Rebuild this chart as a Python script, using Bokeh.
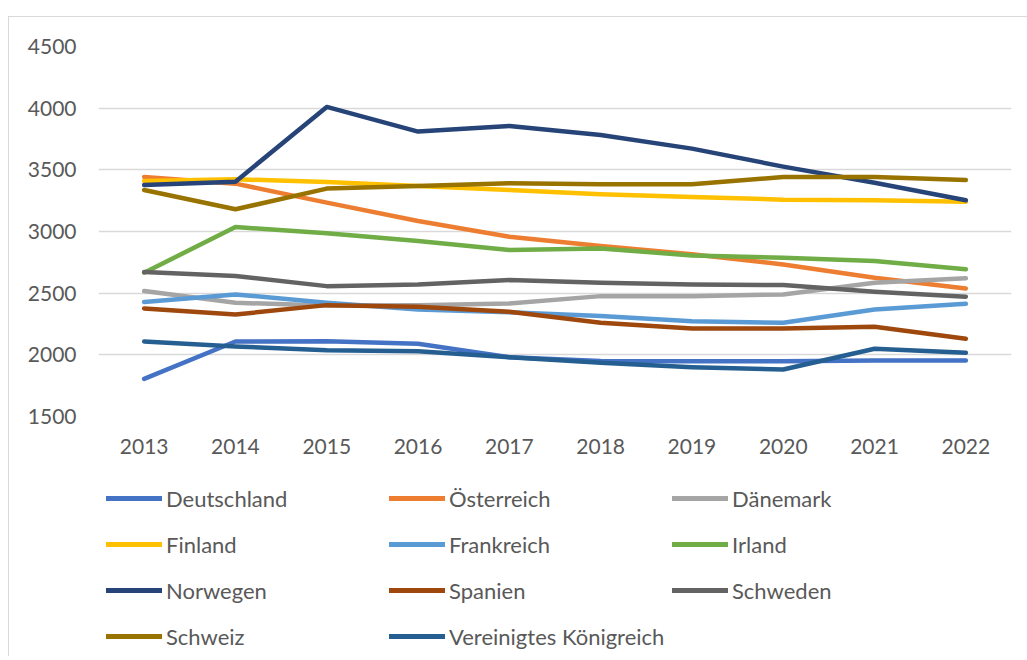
from bokeh.plotting import figure
from bokeh.layouts import column
from bokeh.models import Legend, LegendItem, FactorRange, Range1d, FixedTicker
from bokeh.embed import file_html
from bokeh.resources import INLINE

years = ["2013", "2014", "2015", "2016", "2017", "2018", "2019", "2020", "2021", "2022"]

deutschland = [1805, 2108, 2110, 2090, 1980, 1950, 1948, 1948, 1955, 1955]
oesterreich = [3442, 3388, 3234, 3085, 2958, 2882, 2815, 2733, 2625, 2538]
daenemark = [2517, 2422, 2400, 2403, 2417, 2476, 2476, 2490, 2584, 2620]
finland = [3410, 3423, 3402, 3369, 3337, 3302, 3280, 3258, 3253, 3242]
frankreich = [2428, 2490, 2422, 2368, 2346, 2314, 2273, 2260, 2368, 2414]
irland = [2666, 3036, 2985, 2923, 2850, 2863, 2806, 2787, 2760, 2693]
norwegen = [3377, 3404, 4010, 3810, 3856, 3783, 3672, 3526, 3396, 3253]
spanien = [2376, 2327, 2403, 2390, 2349, 2260, 2214, 2214, 2227, 2130]
schweden = [2671, 2639, 2557, 2571, 2606, 2584, 2571, 2566, 2511, 2471]
schweiz = [3337, 3180, 3348, 3369, 3391, 3383, 3383, 3442, 3442, 3418]
vereinigtes_koenigreich = [2108, 2068, 2038, 2030, 1981, 1935, 1900, 1881, 2049, 2016]

series_names = ["Deutschland", "Österreich", "Dänemark", "Finland", "Frankreich", "Irland",
                "Norwegen", "Spanien", "Schweden", "Schweiz", "Vereinigtes Königreich"]
series_values = [deutschland, oesterreich, daenemark, finland, frankreich, irland,
                 norwegen, spanien, schweden, schweiz, vereinigtes_koenigreich]
series_colors = ["#4472C4", "#ED7D31", "#A5A5A5", "#FFC000", "#5B9BD5", "#70AD47",
                 "#264478", "#9E480E", "#636363", "#997300", "#255E91"]

y_ticks = [1500, 2000, 2500, 3000, 3500, 4000, 4500]

# legend columns (the reference reads row by row: 3 entries per row)
legend_columns = [["Deutschland", "Finland", "Norwegen", "Schweiz"],
                  ["Österreich", "Frankreich", "Spanien", "Vereinigtes Königreich"],
                  ["Dänemark", "Irland", "Schweden"]]

FONT = "Lato"
TXT = "#595959"
W = 1018

# ---- main chart -------------------------------------------------------------
p = figure(x_range=FactorRange(*years), y_range=Range1d(1500, 4500),
           width=W, height=453,
           min_border_left=89, min_border_top=29, min_border_right=16,
           min_border_bottom=54,
           output_backend="svg", toolbar_location=None)
p.outline_line_color = None
p.background_fill_color = "white"
p.border_fill_color = "white"

p.xgrid.grid_line_color = None
p.ygrid.grid_line_color = "#D9D9D9"
p.ygrid.grid_line_width = 1.5
p.yaxis.ticker = FixedTicker(ticks=y_ticks)

for ax in (p.xaxis[0], p.yaxis[0]):
    ax.axis_line_color = None
    ax.major_tick_line_color = None
    ax.minor_tick_line_color = None
    ax.major_label_text_font = FONT
    ax.major_label_text_font_size = "21px"
    ax.major_label_text_color = TXT
p.yaxis.major_label_standoff = 16
p.xaxis.major_label_standoff = 16

for name, vals, col in zip(series_names, series_values, series_colors):
    p.line(years, vals, line_color=col, line_width=4.5,
           line_cap="round", line_join="round")

# ---- legend panel -----------------------------------------------------------
LEG_H = 186
lf = figure(width=W, height=LEG_H, x_range=Range1d(0, 1), y_range=Range1d(0, 1),
            x_axis_type=None, y_axis_type=None, min_border=0,
            output_backend="svg", toolbar_location=None)
lf.grid.visible = False
lf.outline_line_color = None
lf.background_fill_color = "white"
lf.border_fill_color = "white"

# legend-only renderers (no visible data; NaN keeps the line from drawing)
nan = float("nan")
swatch = {}
for name, col in zip(series_names, series_colors):
    swatch[name] = lf.line(x=[0, 1], y=[nan, nan], line_color=col, line_width=5,
                           line_cap="round")

item_h = 30
gap = 16
top = 13
col_x = [8, 291, 574]
for xs, names in zip(col_x, legend_columns):
    n = len(names)
    h = n * item_h + (n - 1) * gap
    lg = Legend(items=[LegendItem(label=nm, renderers=[swatch[nm]]) for nm in names],
                location=(xs, LEG_H - (top + h)),
                orientation="vertical",
                label_text_font=FONT, label_text_font_size="22px",
                label_text_color=TXT, glyph_width=56, glyph_height=item_h,
                label_height=item_h, label_standoff=4,
                spacing=gap, padding=0, margin=0, border_line_color=None,
                background_fill_alpha=0)
    lf.add_layout(lg, "center")

layout = column(p, lf, spacing=0, margin=(16, 0, 0, 8),
                styles={"border-left": "1px solid #D9D9D9",
                        "border-top": "1px solid #D9D9D9"})

open("out.html", "w").write(file_html(layout, INLINE))
